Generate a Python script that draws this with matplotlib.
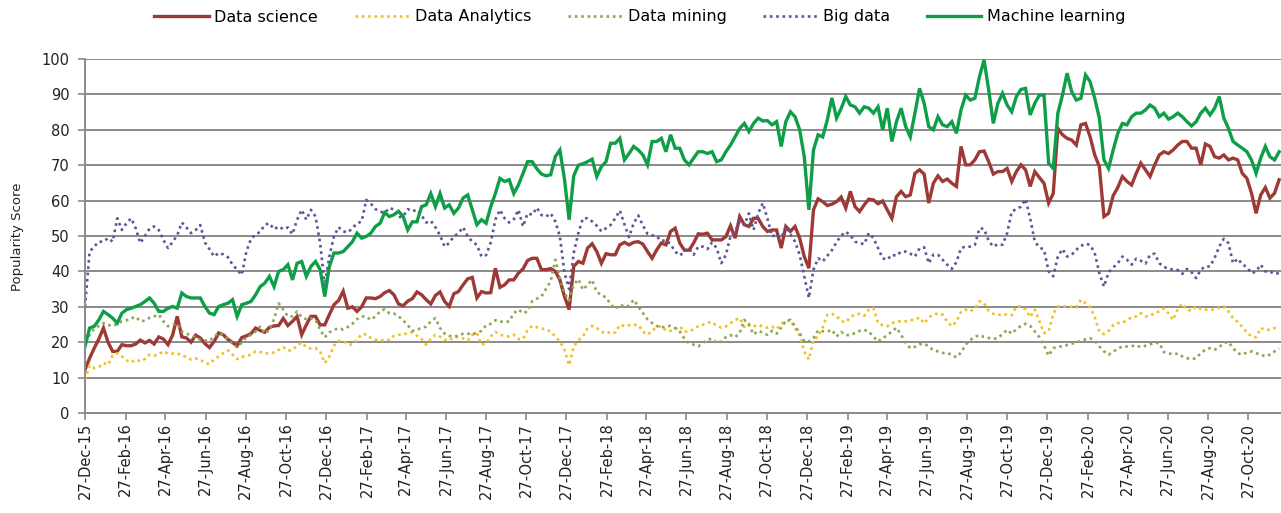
import numpy as np
import pandas as pd
import matplotlib
matplotlib.use("Agg")
import matplotlib.pyplot as plt
import matplotlib.dates as mdates

# ---------------- data (weekly, starting 27-Dec-2015) ----------------
start_date = "2015-12-27"

data_science = [
    12.2, 15.5, 18.3, 20.9, 24.0, 20.0, 17.4, 17.4, 19.3, 19.0,
    19.0, 19.5, 20.6, 19.8, 20.5, 19.5, 21.5, 20.9, 19.3, 22.0,
    27.3, 21.5, 21.2, 20.0, 22.0, 21.2, 19.6, 18.5, 20.2, 22.6,
    22.1, 20.8, 19.9, 19.0, 21.3, 21.8, 22.4, 24.0, 23.3, 22.8,
    24.2, 24.6, 24.7, 26.7, 24.7, 25.9, 27.3, 22.1, 24.9, 27.3,
    27.3, 24.9, 24.9, 27.8, 30.6, 31.8, 34.4, 29.6, 30.0, 28.7,
    30.0, 32.5, 32.5, 32.3, 32.9, 34.0, 34.6, 33.4, 30.8, 30.3,
    31.6, 32.3, 34.2, 33.4, 32.0, 30.8, 33.2, 34.2, 31.5, 30.1,
    33.7, 34.3, 36.2, 37.9, 38.3, 32.5, 34.3, 33.9, 34.0, 40.9,
    35.5, 36.2, 37.6, 37.6, 39.5, 40.7, 43.1, 43.7, 43.7, 40.5,
    40.5, 40.8, 40.0, 37.6, 32.9, 29.2, 41.4, 42.8, 42.3, 46.6,
    47.8, 45.6, 42.3, 45.0, 44.7, 44.7, 47.5, 48.2, 47.5, 48.2,
    48.4, 47.7, 45.6, 43.7, 46.1, 48.0, 47.5, 51.3, 52.2, 48.0,
    46.0, 46.0, 48.0, 50.6, 50.5, 50.8, 48.9, 48.9, 48.9, 49.8,
    52.9, 49.4, 55.5, 53.2, 52.7, 55.0, 55.0, 52.7, 51.3, 51.7,
    51.7, 46.6, 52.7, 51.3, 52.7, 49.4, 44.2, 40.9, 57.4, 60.5,
    59.7, 58.6, 59.0, 59.7, 61.0, 57.9, 62.6, 58.3, 56.9, 58.8,
    60.4, 60.2, 59.1, 59.9, 57.4, 55.0, 61.1, 62.6, 61.1, 61.6,
    67.7, 68.7, 67.5, 59.3, 64.9, 67.0, 65.4, 66.1, 64.9, 64.0,
    75.3, 70.1, 70.1, 71.5, 73.8, 74.0, 71.0, 67.5, 68.2, 68.2,
    69.1, 65.4, 68.2, 70.1, 68.7, 64.0, 68.2, 66.5, 64.9, 59.3,
    62.0, 80.4, 78.6, 77.6, 77.1, 75.7, 81.4, 81.8, 78.0, 72.9,
    69.6, 55.5, 56.4, 61.4, 63.7, 66.8, 65.4, 64.4, 67.7, 70.6,
    68.7, 66.8, 70.1, 72.9, 73.8, 73.3, 74.3, 75.7, 76.7, 76.7,
    74.8, 74.8, 70.1, 76.0, 75.3, 72.4, 72.0, 72.9, 71.5, 72.0,
    71.5, 67.7, 66.3, 62.1, 56.4, 61.6, 63.7, 60.7, 62.1, 65.9,
]

data_analytics = [
    9.4, 13.5, 12.7, 13.0, 14.1, 13.6, 16.3, 16.9, 16.0, 14.9,
    14.3, 15.1, 14.6, 15.3, 16.5, 16.2, 16.6, 17.4, 16.8, 16.8,
    16.9, 16.3, 15.8, 15.1, 15.4, 15.1, 14.1, 13.8, 15.1, 16.0,
    16.9, 17.7, 16.5, 15.2, 15.8, 16.3, 16.4, 17.4, 17.2, 16.9,
    16.9, 17.1, 17.8, 18.6, 17.6, 17.8, 19.1, 19.9, 18.6, 18.2,
    18.3, 17.4, 14.1, 16.0, 19.0, 20.3, 20.4, 19.3, 19.4, 20.7,
    22.3, 22.2, 21.2, 20.7, 20.7, 20.3, 20.7, 21.8, 22.1, 22.1,
    22.6, 22.8, 21.8, 20.9, 19.3, 20.9, 22.1, 21.6, 20.7, 20.5,
    21.5, 21.4, 21.1, 20.5, 22.1, 22.6, 19.3, 19.6, 21.6, 22.9,
    22.1, 21.8, 21.6, 22.1, 20.9, 20.9, 23.5, 24.6, 24.2, 23.8,
    23.7, 22.9, 21.6, 20.2, 17.9, 13.5, 18.8, 20.5, 21.6, 24.0,
    24.6, 24.0, 23.0, 22.4, 23.0, 22.7, 24.9, 24.6, 24.8, 24.9,
    24.9, 23.0, 22.1, 23.2, 24.3, 24.5, 23.3, 23.2, 23.6, 24.5,
    23.0, 23.0, 23.7, 24.5, 24.9, 25.5, 25.7, 24.6, 24.1, 24.5,
    25.4, 26.3, 26.8, 24.3, 25.2, 24.5, 24.9, 24.4, 24.1, 24.4,
    23.7, 25.2, 25.9, 26.2, 24.0, 21.8, 17.4, 15.1, 20.7, 21.6,
    24.2, 27.8, 28.0, 27.4, 26.0, 25.6, 27.0, 27.9, 28.0, 27.5,
    29.2, 29.6, 25.4, 24.8, 24.5, 25.4, 25.8, 25.9, 25.9, 26.2,
    26.4, 27.0, 25.3, 27.0, 27.8, 28.1, 27.8, 25.8, 24.5, 25.8,
    28.6, 29.2, 28.7, 29.6, 31.6, 31.0, 28.9, 28.0, 27.8, 27.6,
    27.9, 27.6, 30.1, 30.1, 29.2, 27.1, 29.2, 25.9, 22.6, 23.0,
    28.0, 30.1, 30.1, 30.1, 30.0, 29.9, 32.0, 31.0, 29.9, 27.1,
    23.0, 22.3, 23.2, 24.8, 25.4, 25.4, 26.3, 27.0, 27.3, 28.2,
    27.3, 27.4, 28.3, 28.7, 29.5, 28.2, 26.3, 29.4, 30.9, 29.2,
    28.9, 30.1, 29.4, 29.2, 29.2, 29.2, 29.8, 30.1, 28.7, 26.8,
    25.7, 24.3, 22.8, 21.6, 21.4, 24.0, 23.5, 23.5, 24.0, 24.0,
]

data_mining = [
    20.2, 22.1, 23.8, 24.6, 25.4, 24.9, 24.5, 25.2, 25.9, 26.2,
    26.7, 27.2, 25.9, 26.1, 26.9, 27.3, 27.8, 25.9, 24.5, 24.9,
    25.2, 23.0, 22.4, 22.0, 21.4, 20.7, 20.5, 20.4, 21.6, 22.6,
    22.0, 20.7, 19.6, 18.6, 19.9, 21.4, 22.1, 23.0, 24.4, 22.4,
    23.5, 26.5, 31.0, 29.2, 27.3, 27.3, 28.7, 27.1, 26.5, 26.8,
    26.3, 23.5, 21.4, 22.8, 23.5, 23.9, 23.6, 24.3, 25.2, 26.5,
    27.3, 27.2, 26.3, 27.3, 28.7, 29.3, 28.2, 28.1, 27.3, 26.2,
    24.8, 23.2, 23.5, 24.1, 24.4, 25.9, 26.8, 24.0, 22.4, 21.8,
    21.6, 21.8, 22.4, 22.4, 22.2, 22.7, 23.2, 24.8, 25.2, 26.2,
    25.9, 25.6, 25.9, 28.2, 29.2, 28.2, 28.7, 31.6, 32.3, 32.9,
    35.1, 37.2, 43.3, 38.1, 33.9, 31.8, 36.2, 37.8, 34.8, 36.2,
    37.6, 34.1, 33.4, 32.6, 30.8, 29.4, 30.6, 30.1, 30.3, 32.0,
    30.1, 28.2, 26.5, 25.4, 24.6, 24.1, 24.5, 24.6, 24.0, 23.0,
    21.0, 19.7, 19.3, 18.8, 19.8, 20.7, 21.0, 19.8, 20.2, 21.4,
    22.0, 21.4, 22.6, 26.3, 24.9, 22.2, 23.2, 22.7, 22.1, 23.2,
    22.4, 24.1, 26.0, 26.3, 24.5, 22.6, 20.2, 20.2, 21.2, 23.3,
    23.1, 23.0, 23.5, 21.6, 22.9, 22.0, 22.0, 22.6, 23.2, 23.5,
    23.0, 21.6, 20.2, 21.1, 22.0, 23.0, 24.1, 22.1, 19.8, 18.3,
    18.7, 19.4, 19.6, 18.8, 17.7, 17.4, 17.0, 16.9, 16.5, 15.7,
    17.1, 19.3, 20.6, 21.5, 22.0, 21.5, 21.2, 20.9, 21.2, 22.3,
    23.5, 22.4, 23.7, 24.6, 25.2, 24.6, 23.0, 21.4, 19.1, 16.2,
    18.3, 18.8, 18.8, 19.2, 19.6, 19.9, 20.4, 20.8, 21.1, 20.4,
    18.8, 17.4, 16.5, 17.3, 18.2, 18.8, 18.8, 18.9, 19.1, 18.6,
    19.0, 19.4, 19.8, 19.8, 17.2, 16.9, 16.5, 16.8, 16.0, 15.5,
    15.2, 15.5, 16.9, 17.9, 18.3, 17.9, 18.6, 19.8, 20.1, 18.3,
    16.9, 16.5, 17.1, 17.4, 16.9, 16.5, 16.0, 16.5, 17.4, 18.2,
]

big_data = [
    30.0, 45.6, 47.0, 48.4, 48.4, 49.4, 48.4, 55.0, 51.7, 53.6,
    55.0, 52.2, 48.0, 50.0, 52.1, 52.7, 51.7, 48.9, 46.6, 48.3,
    50.2, 53.8, 52.4, 50.8, 51.7, 53.1, 48.2, 46.3, 44.2, 45.2,
    44.8, 44.0, 41.9, 40.5, 39.0, 45.6, 49.2, 50.4, 51.2, 53.2,
    53.6, 51.9, 52.7, 51.9, 52.4, 50.5, 54.6, 57.4, 54.6, 57.4,
    55.5, 48.0, 36.0, 44.2, 49.9, 52.5, 51.3, 51.0, 52.2, 53.6,
    54.1, 60.2, 59.1, 57.6, 56.9, 56.5, 57.9, 57.5, 55.3, 55.5,
    57.6, 57.0, 57.4, 55.8, 53.8, 54.3, 52.5, 50.2, 47.0, 48.0,
    49.9, 50.8, 52.5, 49.9, 48.4, 47.5, 44.2, 44.6, 48.2, 54.6,
    57.4, 55.0, 53.8, 54.7, 57.4, 52.7, 56.4, 56.0, 58.0, 55.9,
    55.5, 56.4, 54.1, 49.9, 39.5, 35.0, 45.2, 50.8, 55.0, 55.0,
    54.1, 52.9, 51.3, 52.2, 53.1, 55.0, 57.2, 53.3, 49.7, 53.6,
    55.8, 53.0, 50.6, 50.2, 49.9, 48.6, 48.8, 47.7, 45.6, 44.5,
    45.5, 46.6, 44.7, 47.0, 47.0, 46.3, 48.2, 46.6, 42.3, 44.7,
    49.9, 51.3, 54.1, 53.1, 56.4, 51.7, 56.4, 59.3, 55.0, 49.9,
    50.3, 49.4, 52.7, 50.5, 48.4, 44.7, 38.6, 32.5, 40.5, 43.7,
    42.8, 44.4, 46.0, 48.3, 50.1, 51.2, 50.2, 48.4, 48.0, 47.7,
    50.8, 49.4, 46.6, 43.7, 43.3, 44.7, 44.4, 45.6, 45.6, 45.0,
    44.2, 46.5, 46.8, 42.3, 44.7, 44.7, 43.3, 41.9, 40.7, 42.6,
    46.6, 47.0, 47.0, 47.5, 52.2, 52.0, 48.6, 47.0, 47.7, 47.5,
    50.8, 56.9, 57.6, 58.3, 60.4, 55.0, 48.4, 46.8, 46.1, 40.0,
    38.6, 44.2, 46.3, 44.2, 44.7, 46.1, 47.2, 47.8, 47.5, 45.2,
    39.5, 35.7, 39.7, 41.1, 42.3, 44.2, 43.3, 41.9, 43.6, 43.0,
    42.2, 44.7, 45.0, 42.3, 41.3, 40.7, 40.5, 40.4, 39.3, 40.7,
    39.8, 38.1, 40.5, 41.4, 41.4, 43.8, 47.0, 49.2, 48.0, 42.3,
    43.6, 42.0, 41.2, 39.5, 40.0, 41.9, 40.0, 40.0, 39.3, 39.5,
]

machine_learning = [
    18.8, 24.0, 24.5, 26.3, 28.7, 27.8, 26.8, 25.4, 28.2, 29.2,
    29.6, 30.1, 30.6, 31.5, 32.5, 31.0, 28.7, 28.7, 29.6, 30.1,
    29.6, 33.9, 32.9, 32.5, 32.5, 32.5, 30.1, 28.2, 27.8, 30.1,
    30.6, 31.0, 32.0, 27.3, 30.6, 31.0, 31.5, 33.4, 35.7, 36.7,
    38.6, 35.7, 40.0, 40.5, 41.9, 37.6, 42.3, 42.8, 38.6, 41.4,
    42.8, 40.5, 32.9, 41.4, 45.2, 45.2, 45.6, 47.0, 48.4, 50.8,
    49.4, 49.9, 50.8, 52.7, 53.6, 56.6, 55.5, 56.0, 57.0, 55.5,
    51.7, 54.0, 54.0, 58.3, 58.8, 62.0, 58.3, 62.0, 57.9, 58.8,
    56.4, 57.9, 60.7, 61.6, 57.4, 53.2, 54.6, 53.6, 58.3, 62.0,
    66.3, 65.4, 65.9, 62.0, 64.4, 67.7, 71.0, 71.0, 69.0, 67.5,
    67.0, 67.3, 72.4, 74.3, 66.0, 54.6, 67.0, 70.0, 70.4, 71.0,
    71.7, 66.8, 69.6, 71.0, 76.2, 76.2, 77.6, 71.5, 73.3, 75.3,
    74.3, 72.9, 70.1, 76.7, 76.7, 77.6, 73.8, 78.6, 74.8, 74.8,
    71.5, 70.1, 72.0, 73.8, 73.8, 73.3, 73.8, 71.0, 71.5, 73.8,
    75.7, 78.0, 80.4, 81.8, 79.5, 81.8, 83.3, 82.5, 82.6, 81.4,
    82.3, 75.3, 82.3, 85.1, 83.7, 80.0, 72.4, 57.4, 74.3, 78.6,
    78.0, 82.8, 89.0, 83.3, 86.0, 89.4, 87.0, 86.5, 84.7, 86.5,
    86.1, 84.7, 86.5, 80.0, 86.1, 76.7, 82.3, 86.1, 80.9, 78.0,
    84.7, 91.7, 87.5, 80.9, 80.0, 83.7, 81.4, 80.9, 82.3, 79.0,
    85.6, 89.8, 88.4, 88.9, 95.0, 99.7, 91.3, 81.8, 87.5, 90.3,
    87.0, 85.1, 89.4, 91.4, 91.7, 84.2, 87.5, 89.8, 89.8, 70.6,
    69.1, 84.7, 89.8, 96.0, 90.8, 88.4, 88.9, 95.5, 93.6, 88.9,
    83.3, 71.5, 69.1, 74.3, 79.0, 81.8, 81.4, 83.7, 84.7, 84.7,
    85.6, 87.0, 86.1, 83.7, 84.7, 83.0, 83.7, 84.7, 83.7, 82.3,
    81.1, 82.3, 84.7, 86.1, 84.2, 86.1, 89.4, 83.3, 80.4, 76.7,
    75.7, 74.8, 73.8, 71.5, 67.7, 72.0, 75.3, 72.4, 71.5, 73.8,
]

series_names = ["Data science", "Data Analytics", "Data mining", "Big data", "Machine learning"]
tick_start, tick_end = "2015-12-27", "2020-10-27"
y_ticks = list(range(0, 101, 10))
y_label = "Popularity Score"

# ---------------- figure ----------------
W, H = 1281, 513
fig = plt.figure(figsize=(W / 100, H / 100), dpi=100)
ax = fig.add_axes([85 / W, 100 / H, 1196 / W, 354 / H])

dates = pd.date_range(start_date, periods=len(machine_learning), freq="7D")

styles = [
    dict(color="#9E3A36", lw=2.4, ls="-"),
    dict(color="#F2C01E", lw=1.9, ls=(0, (1, 1.4))),
    dict(color="#8DA651", lw=1.9, ls=(0, (1, 1.4))),
    dict(color="#5A5697", lw=1.9, ls=(0, (1, 1.4))),
    dict(color="#0E9E48", lw=2.4, ls="-"),
]
all_series = [data_science, data_analytics, data_mining, big_data, machine_learning]
for name, vals, st in zip(series_names, all_series, styles):
    ax.plot(dates, vals, label=name, color=st["color"], lw=st["lw"],
            linestyle=st["ls"], solid_joinstyle="miter")

ax.set_ylim(0, 100)
ax.set_yticks(y_ticks)
ax.set_xlim(dates[0], dates[0] + pd.Timedelta(weeks=259.4))
ticks = pd.date_range(tick_start, tick_end, freq=pd.DateOffset(months=2))
ax.set_xticks(ticks)
ax.xaxis.set_major_formatter(mdates.DateFormatter("%d-%b-%y"))

grid_c = "#8A8A8A"
ax.grid(axis="y", color=grid_c, lw=1.4)
ax.grid(axis="x", visible=False)
ax.set_axisbelow(True)
for s in ["top", "right"]:
    ax.spines[s].set_visible(False)
for s in ["left", "bottom"]:
    ax.spines[s].set_color(grid_c)
    ax.spines[s].set_linewidth(1.4)

ax.tick_params(axis="x", direction="out", length=5, width=1.2, color=grid_c,
               labelrotation=90, labelsize=10.5, pad=2, labelcolor="#222222")
ax.tick_params(axis="y", direction="out", length=5, width=1.2, color=grid_c,
               labelsize=10.5, pad=6, labelcolor="#222222")

fig.text(18 / W, 1 - 237 / H, y_label, rotation=90, ha="center", va="center",
         fontsize=9.5, color="#222222")

leg = fig.legend(loc="center", bbox_to_anchor=(640 / W, 1 - 17 / H), ncol=5,
                 frameon=False, handlelength=3.4, columnspacing=2.3,
                 handletextpad=0.35,
                 prop={"family": "DejaVu Sans", "size": 11.5})

fig.savefig("out.png", dpi=100)
